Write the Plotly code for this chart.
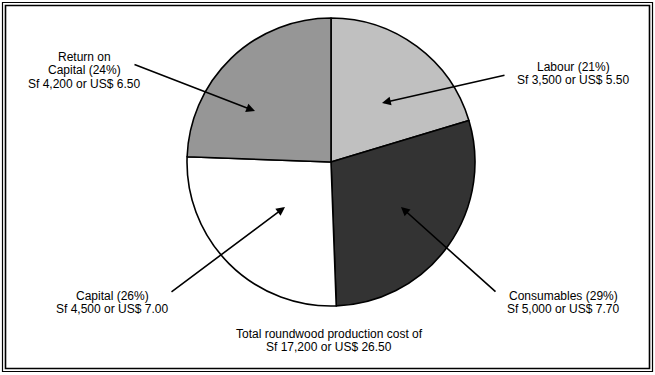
import plotly.graph_objects as go

# ---- data ----
categories = ["Labour", "Consumables", "Capital", "Return on Capital"]
label_names = [["Labour"], ["Consumables"], ["Capital"], ["Return on", "Capital"]]
sf_values = [3500, 5000, 4500, 4200]
pct_values = [21, 29, 26, 24]
usd_values = [5.50, 7.70, 7.00, 6.50]
total_sf = 17200
total_usd = 26.50
slice_colors = ["#C0C0C0", "#333333", "#FFFFFF", "#969696"]

# ---- layout helpers (pixel coordinates in a 655x375 canvas) ----
W, H = 655, 375
cx, cy, r = 331, 162, 144
# label text anchor (center x, y of first line) and arrow tail/tip per category
label_pos = [(573, 67), (563, 296), (112, 296), (84, 57)]
arrow_tail = [(506, 75), (497, 293), (170, 293), (133, 64)]
arrow_tip = [(382, 103), (401, 207), (285, 207), (255, 111)]
line_gap = 13.3
FONT = dict(family="Liberation Sans, Arial, sans-serif", size=12, color="black")

fig = go.Figure()
fig.add_trace(go.Pie(
    labels=categories,
    values=sf_values,
    sort=False,
    direction="clockwise",
    rotation=0,
    textinfo="none",
    hoverinfo="skip",
    marker=dict(colors=slice_colors, line=dict(color="black", width=1.6)),
    domain=dict(x=[(cx - r) / W, (cx + r) / W], y=[1 - (cy + r) / H, 1 - (cy - r) / H]),
    showlegend=False,
))
# empty trace so a pixel-mapped cartesian subplot exists for annotations
fig.add_trace(go.Scatter(x=[], y=[], hoverinfo="skip", showlegend=False))

annotations = []
for i, name in enumerate(categories):
    lines = list(label_names[i])
    lines[-1] = f"{lines[-1]} ({pct_values[i]}%)"
    lines.append(f"Sf {sf_values[i]:,} or US$ {usd_values[i]:.2f}")
    x0, y0 = label_pos[i]
    for k, t in enumerate(lines):
        annotations.append(dict(x=x0, y=y0 + k * line_gap, xref="x", yref="y", text=t,
                                showarrow=False, xanchor="center", yanchor="middle", font=FONT))
    tx, ty = arrow_tail[i]
    hx, hy = arrow_tip[i]
    annotations.append(dict(x=hx, y=hy, xref="x", yref="y", ax=tx, ay=ty, axref="x", ayref="y",
                            text="", showarrow=True, arrowhead=2, arrowsize=1.1, arrowwidth=1.6,
                            arrowcolor="black", standoff=0, startstandoff=0))

total_lines = ["Total roundwood production cost of", f"Sf {total_sf:,} or US$ {total_usd:.2f}"]
for k, t in enumerate(total_lines):
    annotations.append(dict(x=329, y=334 + k * line_gap, xref="x", yref="y", text=t,
                            showarrow=False, xanchor="center", yanchor="middle", font=FONT))

shapes = [
    dict(type="rect", xref="x", yref="y", x0=2.5, x1=652.5, y0=2.5, y1=371.5,
         line=dict(color="black", width=1.2)),
    dict(type="rect", xref="x", yref="y", x0=5.5, x1=649.5, y0=5.5, y1=368.5,
         line=dict(color="black", width=1.6)),
]

fig.update_layout(
    width=W, height=H,
    margin=dict(l=0, r=0, t=0, b=0),
    paper_bgcolor="white", plot_bgcolor="rgba(0,0,0,0)",
    xaxis=dict(range=[0, W], visible=False, fixedrange=True),
    yaxis=dict(range=[H, 0], visible=False, fixedrange=True),
    annotations=annotations,
    shapes=shapes,
    font=FONT,
)

fig.write_html(
    "out.html",
    config={"displayModeBar": False},
    post_script="document.body.style.margin='0';document.body.style.padding='0';document.body.style.overflow='hidden';",
)
